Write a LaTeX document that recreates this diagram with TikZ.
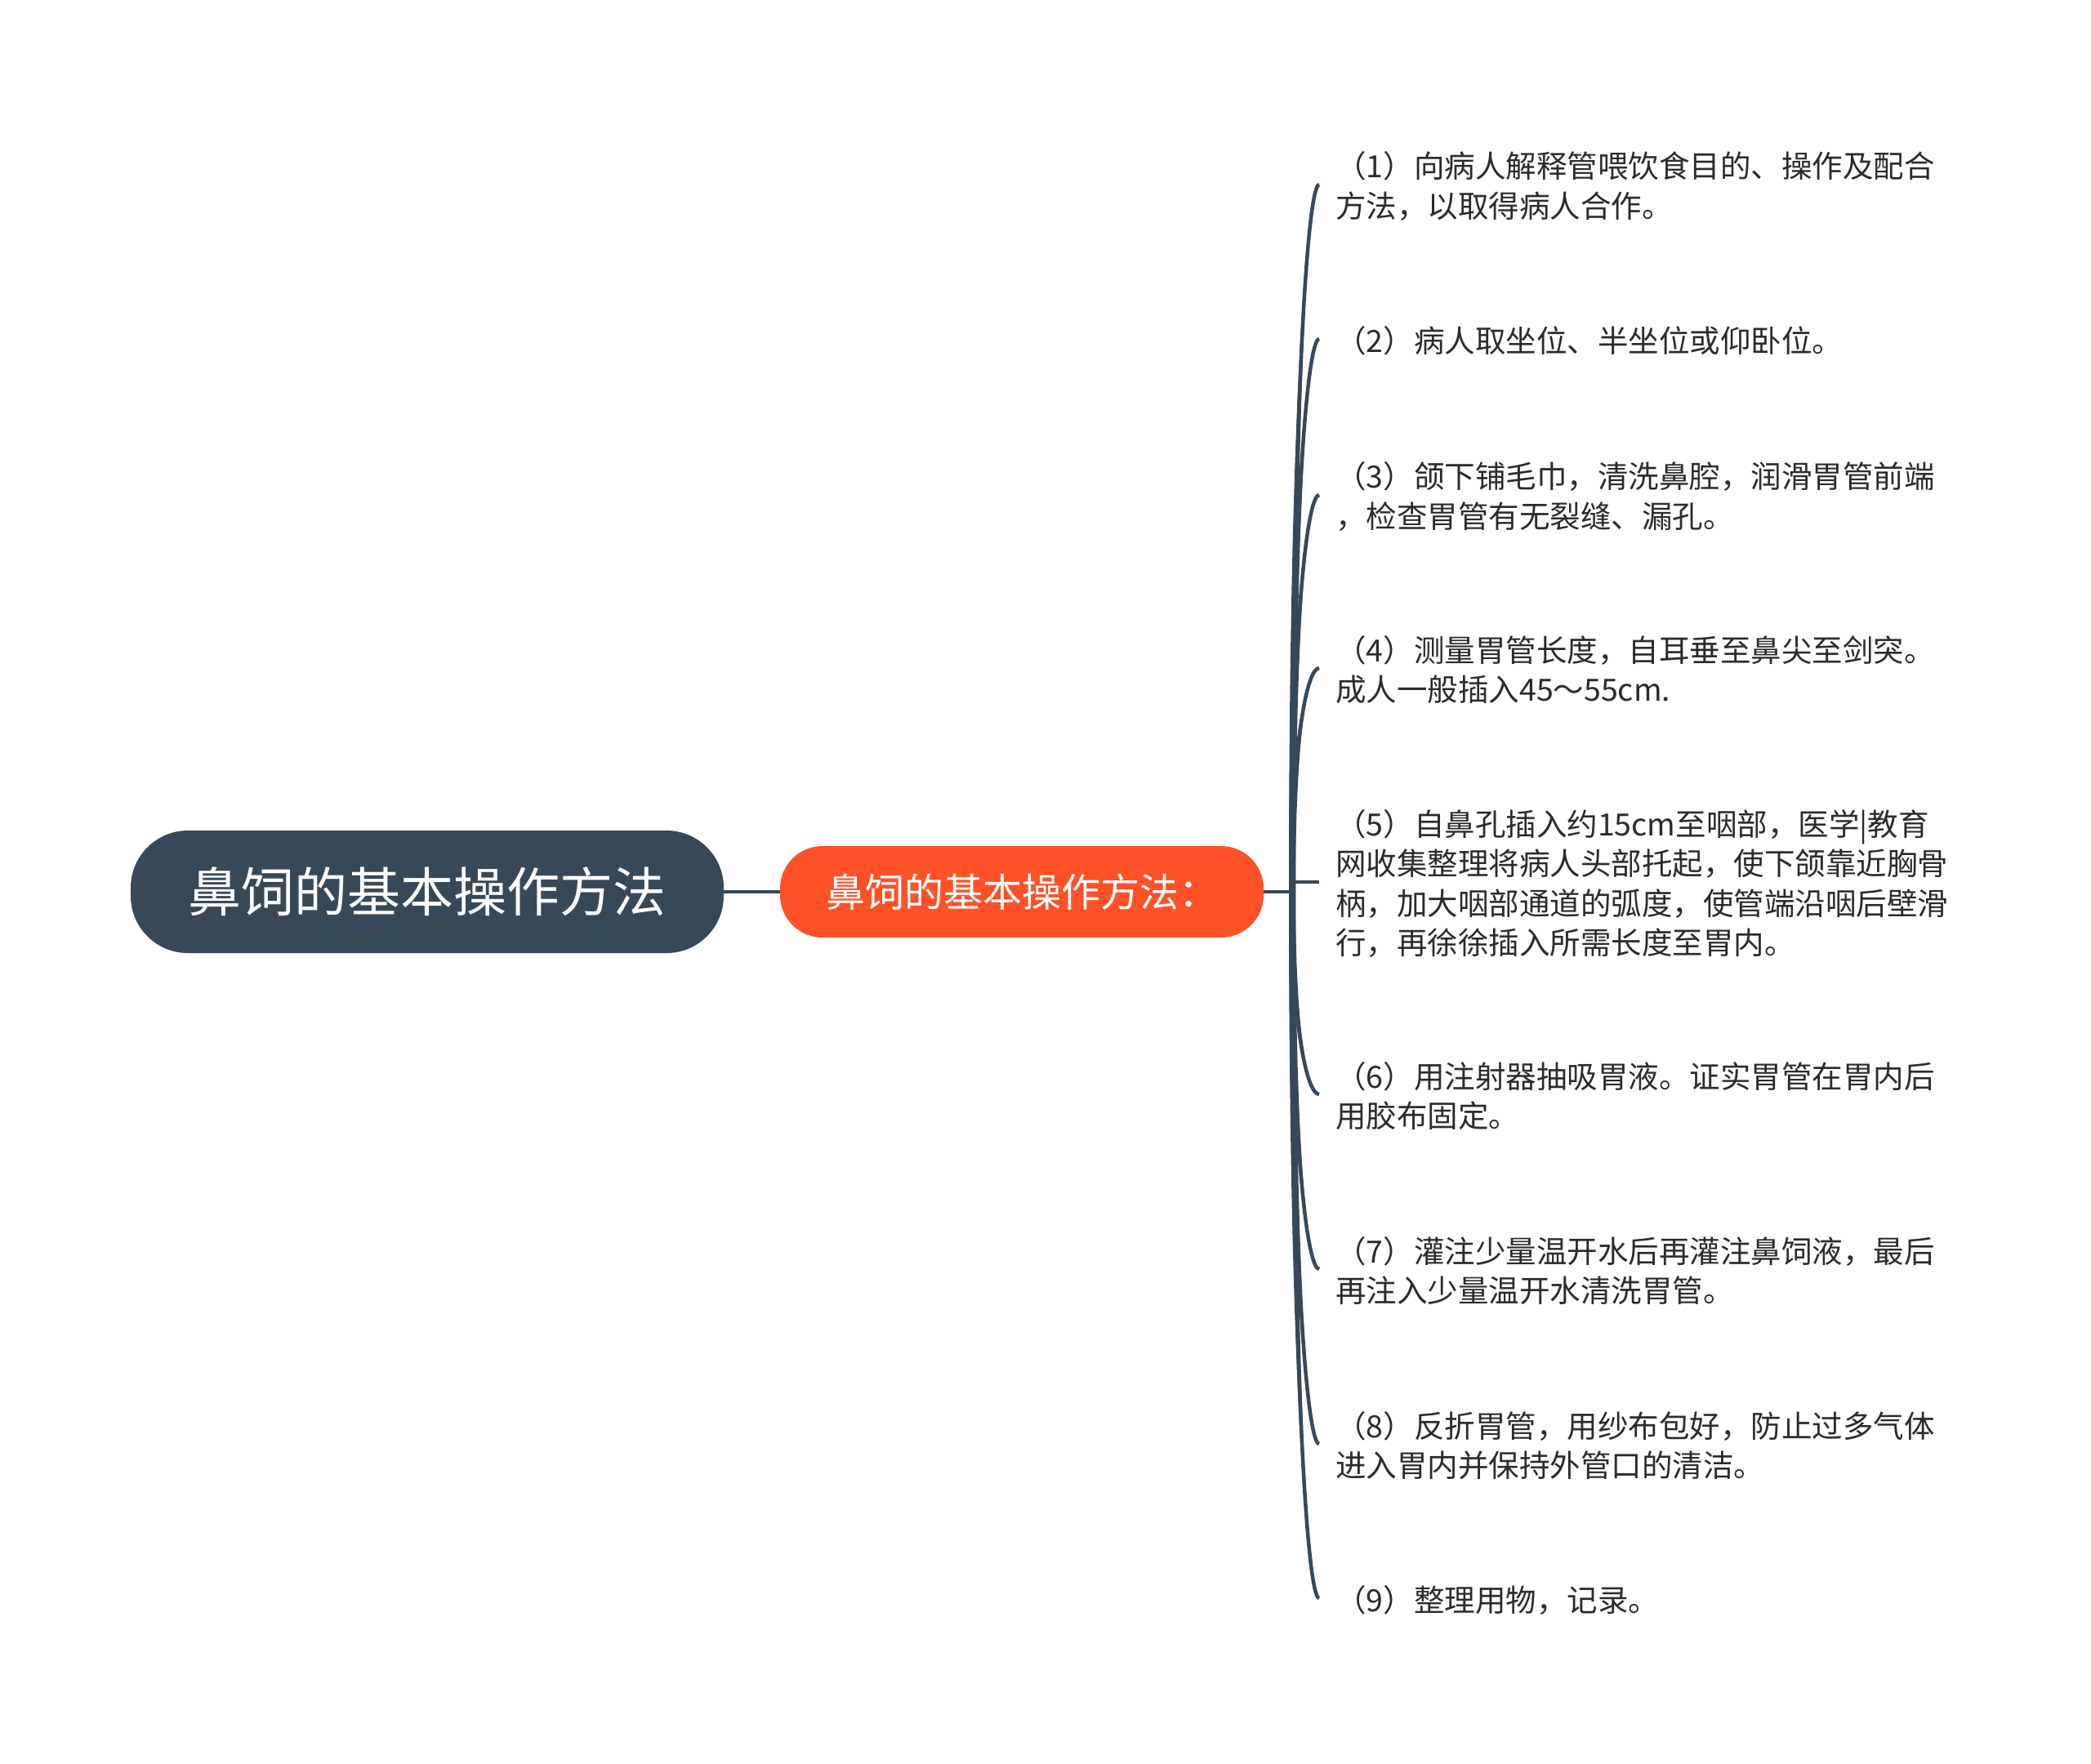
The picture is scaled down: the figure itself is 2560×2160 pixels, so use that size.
\documentclass[tikz,border=0pt]{standalone}
\usepackage{fontspec}
\newfontfamily\cjk{Noto Sans CJK SC}
\usetikzlibrary{calc}
\definecolor{rootc}{HTML}{374859}
\definecolor{subc}{HTML}{FF5128}
\definecolor{linec}{HTML}{374859}
\definecolor{leaftxt}{HTML}{2B2B2B}
\begin{document}
\begin{tikzpicture}[x=1pt,y=-1pt,
  rootbox/.style={fill=rootc,text=white,rounded corners=70pt,minimum width=726pt,minimum height=150pt,inner sep=0pt,font=\cjk\fontsize{65}{78}\selectfont},
  subbox/.style={fill=subc,text=white,rounded corners=52pt,minimum width=592pt,minimum height=112pt,inner sep=0pt,font=\cjk\fontsize{48}{58}\selectfont},
  leaf/.style={anchor=west,inner sep=0pt,align=left,text=leaftxt,font=\cjk\fontsize{37.5}{48.5}\selectfont},
  conn/.style={draw=linec,line width=4.5pt},
  brline/.style={draw=linec,line width=4.5pt},
  br/.style={fill=linec}]
\fill[white] (0,0) rectangle (2560,2160);
\useasboundingbox (0,0) rectangle (2560,2160);

\node[rootbox] (root) at (523,1092) {鼻饲的基本操作方法};
\node[subbox] (sub) at (1251,1092) {鼻饲的基本操作方法：};
\coordinate (hub) at (1582,1092);

\node[leaf] (l1) at (1635,228) {（1）向病人解释管喂饮食目的、操作及配合\\方法，以取得病人合作。};
\node[leaf] (l2) at (1635,417) {（2）病人取坐位、半坐位或仰卧位。};
\node[leaf] (l3) at (1635,608) {（3）颌下铺毛巾，清洗鼻腔，润滑胃管前端\\，检查胃管有无裂缝、漏孔。};
\node[leaf] (l4) at (1635,820) {（4）测量胃管长度，自耳垂至鼻尖至剑突。\\成人一般插入45～55cm.};
\node[leaf] (l5) at (1635,1082) {（5）自鼻孔插入约15cm至咽部，医学|教育\\网收集整理将病人头部托起，使下颌靠近胸骨\\柄，加大咽部通道的弧度，使管端沿咽后壁滑\\行，再徐徐插入所需长度至胃内。};
\node[leaf] (l6) at (1635,1342) {（6）用注射器抽吸胃液。证实胃管在胃内后\\用胶布固定。};
\node[leaf] (l7) at (1635,1556) {（7）灌注少量温开水后再灌注鼻饲液，最后\\再注入少量温开水清洗胃管。};
\node[leaf] (l8) at (1635,1770) {（8）反折胃管，用纱布包好，防止过多气体\\进入胃内并保持外管口的清洁。};
\node[leaf] (l9) at (1635,1959) {（9）整理用物，记录。};

\foreach \i in {1,...,9} { \coordinate (e\i) at ($(l\i.west)+(-20,-2)$); }

\draw[conn] (root.east) -- (sub.west);
\draw[conn] (sub.east) -- (hub);

\foreach \i in {1,2,3,4,6,7,8,9} {
  \coordinate (p\i) at ($(hub)!0.7!(hub|-e\i)$);
  \coordinate (q\i) at ($(e\i)+(-14,0)$);
  \draw[brline] (hub) .. controls (p\i) and (q\i) .. (e\i);
  \fill[br] ($(hub)+(-4,0)$) .. controls ($(p\i)+(-4,0)$) and (q\i) .. (e\i)
     .. controls (q\i) and ($(p\i)+(4,0)$) .. ($(hub)+(4,0)$) -- cycle;
}
\draw[conn] (hub|-e5) -- (e5);
\end{tikzpicture}
\end{document}
